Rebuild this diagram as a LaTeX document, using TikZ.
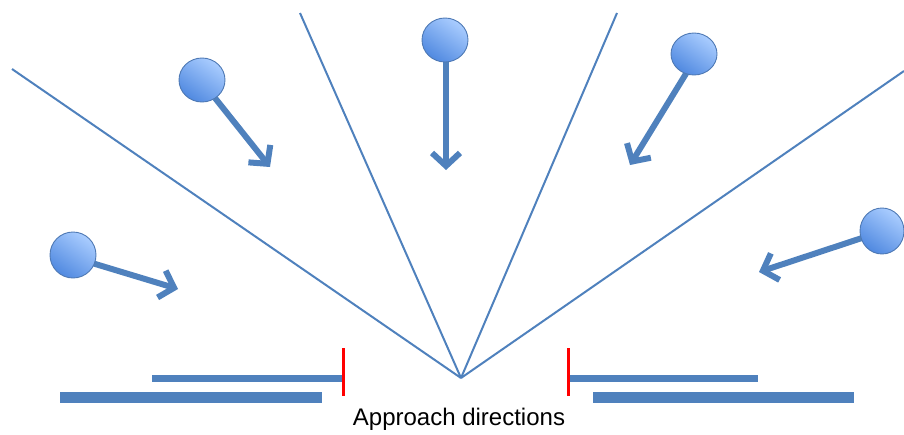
\documentclass[tikz,border=0pt]{standalone}
\usepackage{fontspec}
\setmainfont{Liberation Sans}
\usetikzlibrary{arrows.meta,shapes.geometric}
\definecolor{obl}{HTML}{4F81BD}
\definecolor{balltop}{HTML}{AACDFF}
\definecolor{ballbot}{HTML}{5089E0}
\definecolor{ballrim}{HTML}{4E79B4}
\tikzset{
  ray/.style={draw=obl, line width=2pt},
  ball/.style={ellipse, draw=ballrim, line width=0.9pt, top color=balltop, bottom color=ballbot, shading angle=-35, minimum width=46pt, minimum height=44pt, inner sep=0pt},
  mover/.style={draw=obl, line width=6pt, -{Straight Barb[length=13pt, width=28pt, line width=6pt]}},
  thinbar/.style={draw=obl, line width=7pt},
  thickbar/.style={draw=obl, line width=11pt},
  stopper/.style={draw=red, line width=3pt}
}
\begin{document}
\begin{tikzpicture}[x=1pt, y=-1pt]
\useasboundingbox (0,0) rectangle (904,434);
\coordinate (apex) at (461,378);
\coordinate (r1) at (12,69);
\coordinate (r2) at (300,13);
\coordinate (r3) at (617,13);
\coordinate (r4) at (904,71);
\draw[ray] (apex) -- (r1);
\draw[ray] (apex) -- (r2);
\draw[ray] (apex) -- (r3);
\draw[ray] (apex) -- (r4);
% arrows
\coordinate (a1s) at (215,98);  \coordinate (a1e) at (270,167);
\coordinate (a2s) at (446,60);  \coordinate (a2e) at (446,170);
\coordinate (a3s) at (687,72);  \coordinate (a3e) at (630,165);
\coordinate (a4s) at (92,263);  \coordinate (a4e) at (178,289);
\coordinate (a5s) at (862,238); \coordinate (a5e) at (759,272);
\draw[mover] (a1s) -- (a1e);
\draw[mover] (a2s) -- (a2e);
\draw[mover] (a3s) -- (a3e);
\draw[mover] (a4s) -- (a4e);
\draw[mover] (a5s) -- (a5e);
% balls
\node[ball] (b1) at (202,80) {};
\node[ball] (b2) at (445,40) {};
\node[ball, minimum height=42pt] (b3) at (694,54) {};
\node[ball, minimum width=46pt, minimum height=46pt] (b4) at (73,255) {};
\node[ball, minimum width=44pt, minimum height=46pt] (b5) at (882,231) {};
% bars
\coordinate (l1a) at (152,378); \coordinate (l1b) at (343,378);
\coordinate (l2a) at (60,397);  \coordinate (l2b) at (322,397);
\coordinate (r1a) at (568,378); \coordinate (r1b) at (758,378);
\coordinate (r2a) at (593,397); \coordinate (r2b) at (854,397);
\draw[thinbar] (l1a) -- (l1b);
\draw[thickbar] (l2a) -- (l2b);
\draw[thinbar] (r1a) -- (r1b);
\draw[thickbar] (r2a) -- (r2b);
\coordinate (t1a) at (343,348); \coordinate (t1b) at (343,396);
\coordinate (t2a) at (568,348); \coordinate (t2b) at (568,396);
\draw[stopper] (t1a) -- (t1b);
\draw[stopper] (t2a) -- (t2b);
\node[font=\fontsize{24}{28}\selectfont, inner sep=0pt] (lbl) at (459,419) {Approach directions};
\end{tikzpicture}
\end{document}
